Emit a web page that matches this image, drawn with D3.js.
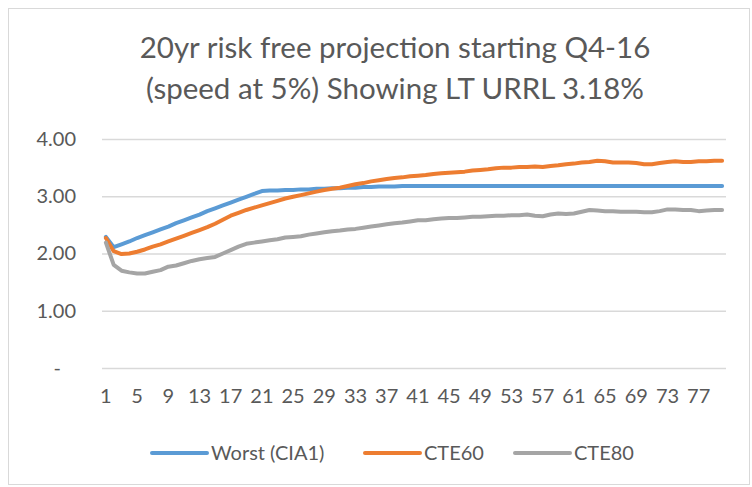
<!DOCTYPE html>
<html>
<head>
<meta charset="utf-8">
<script src="https://d3js.org/d3.v7.min.js"></script>
<style>
  body { margin: 0; background: #fff; }
  text { font-family: Lato, "Open Sans", sans-serif; fill: #595959; }
  .grid line { stroke: #d9d9d9; stroke-width: 1.3px; }
  .series { fill: none; stroke-width: 4px; stroke-linejoin: round; stroke-linecap: round; }
</style>
</head>
<body>
<svg id="chart" width="752" height="487"></svg>
<script>
// chart data
var titleLines = ["20yr risk free projection starting Q4-16", "(speed at 5%) Showing LT URRL 3.18%"];
var seriesNames = ["Worst (CIA1)", "CTE60", "CTE80"];
var seriesColors = ["#5b9bd5", "#ed7d31", "#a5a5a5"];
var yTicks = [0, 1, 2, 3, 4];

var worst = [2.29, 2.11, 2.16, 2.21, 2.27, 2.32, 2.37, 2.42, 2.47, 2.53,
             2.58, 2.63, 2.68, 2.74, 2.79, 2.84, 2.89, 2.94, 2.99, 3.04,
             3.09, 3.10, 3.10, 3.11, 3.11, 3.12, 3.12, 3.13, 3.13, 3.14,
             3.14, 3.15, 3.15, 3.16, 3.16, 3.17, 3.17, 3.17, 3.18, 3.18,
             3.18, 3.18, 3.18, 3.18, 3.18, 3.18, 3.18, 3.18, 3.18, 3.18,
             3.18, 3.18, 3.18, 3.18, 3.18, 3.18, 3.18, 3.18, 3.18, 3.18,
             3.18, 3.18, 3.18, 3.18, 3.18, 3.18, 3.18, 3.18, 3.18, 3.18,
             3.18, 3.18, 3.18, 3.18, 3.18, 3.18, 3.18, 3.18, 3.18, 3.18];

var cte60 = [2.27, 2.04, 1.99, 2.00, 2.03, 2.07, 2.12, 2.16, 2.21, 2.26,
             2.31, 2.36, 2.41, 2.46, 2.52, 2.59, 2.66, 2.71, 2.76, 2.80,
             2.84, 2.88, 2.92, 2.96, 2.99, 3.02, 3.05, 3.08, 3.11, 3.13,
             3.15, 3.18, 3.21, 3.23, 3.26, 3.28, 3.30, 3.32, 3.33, 3.35,
             3.36, 3.37, 3.39, 3.40, 3.41, 3.42, 3.43, 3.45, 3.46, 3.47,
             3.49, 3.50, 3.50, 3.51, 3.51, 3.52, 3.51, 3.53, 3.54, 3.56,
             3.57, 3.59, 3.60, 3.62, 3.61, 3.59, 3.59, 3.59, 3.58, 3.56,
             3.56, 3.58, 3.60, 3.61, 3.60, 3.60, 3.61, 3.61, 3.62, 3.62];

var cte80 = [2.19, 1.80, 1.70, 1.67, 1.65, 1.65, 1.68, 1.71, 1.77, 1.79,
             1.83, 1.87, 1.90, 1.92, 1.94, 2.00, 2.06, 2.12, 2.17, 2.19,
             2.21, 2.23, 2.25, 2.28, 2.29, 2.30, 2.33, 2.35, 2.37, 2.39,
             2.40, 2.42, 2.43, 2.45, 2.47, 2.49, 2.51, 2.53, 2.54, 2.56,
             2.58, 2.58, 2.60, 2.61, 2.62, 2.62, 2.63, 2.64, 2.64, 2.65,
             2.66, 2.66, 2.67, 2.67, 2.68, 2.66, 2.65, 2.68, 2.70, 2.69,
             2.70, 2.73, 2.76, 2.75, 2.74, 2.74, 2.73, 2.73, 2.73, 2.72,
             2.72, 2.74, 2.77, 2.77, 2.76, 2.76, 2.74, 2.75, 2.76, 2.76];

var categories = d3.range(1, worst.length + 1);
var xTicks = categories.filter(function(d) { return (d - 1) % 4 === 0; });

var svg = d3.select("#chart");

// chart border
svg.append("rect")
    .attr("x", 8.5).attr("y", 8.5)
    .attr("width", 741).attr("height", 476)
    .attr("fill", "#fff")
    .attr("stroke", "#d9d9d9");

// title
svg.append("g").selectAll("text")
    .data(titleLines)
  .enter().append("text")
    .attr("x", 395)
    .attr("y", function(d, i) { return 58 + i * 41; })
    .attr("text-anchor", "middle")
    .attr("font-size", 29.5)
    .text(function(d) { return d; });

var x = d3.scaleBand()
    .domain(categories)
    .range([102, 726]);

var y = d3.scaleLinear()
    .domain([0, 4])
    .range([368, 139]);

// gridlines + y labels
var yAxis = svg.append("g")
    .attr("class", "grid")
    .attr("transform", "translate(102,0)")
    .call(d3.axisLeft(y)
        .tickValues(yTicks)
        .tickSize(-624)
        .tickPadding(26)
        .tickFormat(function(d) { return d === 0 ? "-" : d.toFixed(2); }));
yAxis.select(".domain").remove();
yAxis.selectAll("text")
    .attr("font-size", 20)
    .attr("fill", "#595959")
    .attr("dx", function(d) { return d === 0 ? -15 : 0; });

// x labels
var xAxis = svg.append("g")
    .attr("transform", "translate(0,368)")
    .call(d3.axisBottom(x)
        .tickValues(xTicks)
        .tickSize(0)
        .tickPadding(21));
xAxis.select(".domain").remove();
xAxis.selectAll("text")
    .attr("font-size", 20)
    .attr("fill", "#595959");

// lines
var line = d3.line()
    .x(function(d, i) { return x(categories[i]) + x.bandwidth() / 2; })
    .y(function(d) { return y(d); });

svg.append("g").selectAll("path")
    .data([worst, cte60, cte80])
  .enter().append("path")
    .attr("class", "series")
    .attr("stroke", function(d, i) { return seriesColors[i]; })
    .attr("d", line);

// legend
var legendX = [152, 365, 515];
var legend = svg.append("g").selectAll("g")
    .data(seriesNames)
  .enter().append("g")
    .attr("transform", function(d, i) { return "translate(" + legendX[i] + ",453)"; });

legend.append("line")
    .attr("x1", 0).attr("x2", 55)
    .attr("stroke", function(d, i) { return seriesColors[i]; })
    .attr("stroke-width", 4)
    .attr("stroke-linecap", "round");

legend.append("text")
    .attr("x", 59)
    .attr("y", 7)
    .attr("font-size", 20)
    .text(function(d) { return d; });
</script>
</body>
</html>
